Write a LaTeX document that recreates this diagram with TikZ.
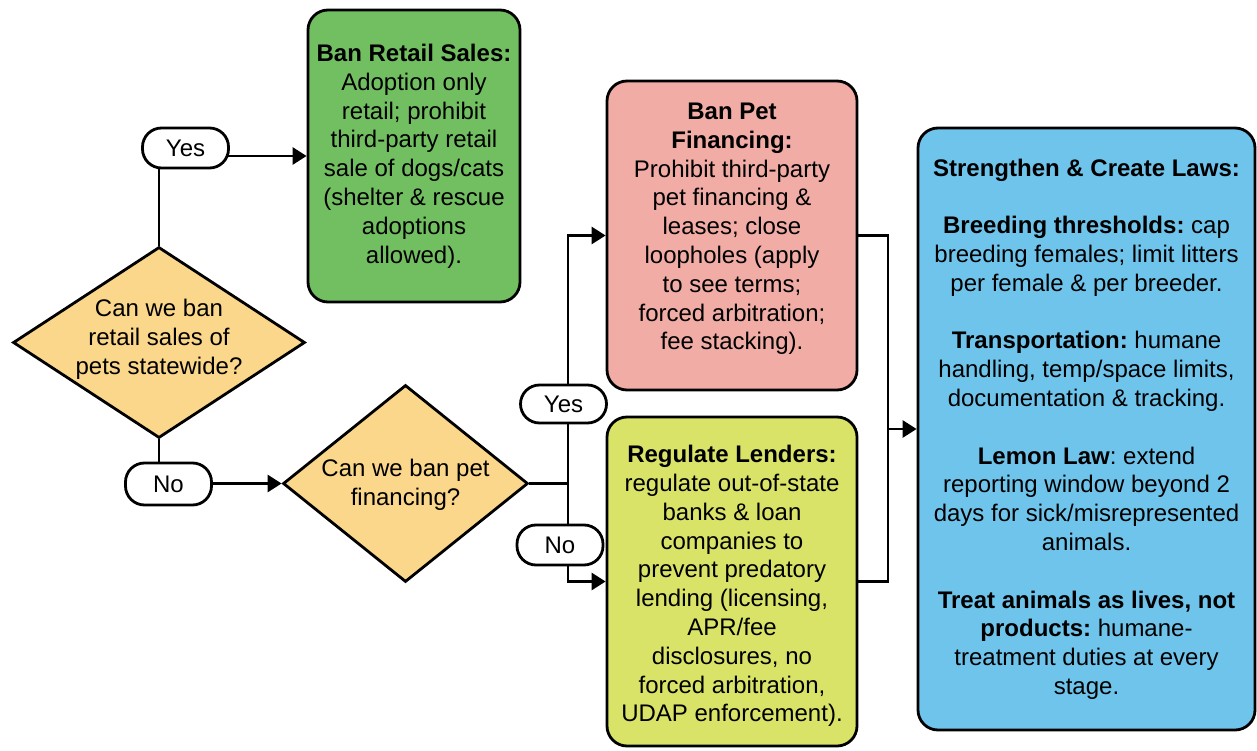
\documentclass[tikz,border=0pt]{standalone}
\usepackage{fontspec}
\setmainfont{Liberation Sans}
\usetikzlibrary{shapes.geometric,arrows.meta,backgrounds}
\definecolor{retailgreen}{RGB}{114,191,97}
\definecolor{financepink}{RGB}{241,172,165}
\definecolor{lendyellow}{RGB}{217,227,104}
\definecolor{lawblue}{RGB}{111,196,236}
\definecolor{decision}{RGB}{250,215,138}
\begin{document}
\frenchspacing
\begin{tikzpicture}[x=1pt,y=1pt,
  font=\fontsize{24}{28.8}\selectfont,
  card/.style={draw=black,line width=2.8pt,rounded corners=20pt,inner sep=0pt},
  txt/.style={align=center,inner sep=0pt},
  pill/.style={draw=black,line width=2.8pt,fill=white,rounded corners=19pt,
    minimum width=86pt,minimum height=40pt,inner sep=0pt},
  dia/.style={diamond,draw=black,line width=2.8pt,fill=decision,inner sep=0pt},
  link/.style={line width=2.8pt},
  arr/.style={link,-{Triangle[length=14pt,width=17pt]}}
]
\useasboundingbox (0,0) rectangle (1257,-751);

% decisions
\node[dia,minimum width=292pt,minimum height=191pt] (d1) at (159,-342.5) {};
\node[txt] (d1t) at ([yshift=3pt]d1.center) {Can we ban\\retail sales of\\pets statewide?};
\node[dia,minimum width=245pt,minimum height=197pt] (d2) at (405.5,-483.5) {};
\node[txt] (d2t) at ([yshift=-1.5pt]d2.center) {Can we ban pet\\financing?};

% outcome cards
\node[card,fill=retailgreen,minimum width=212pt,minimum height=292pt] (g) at (414,-156) {};
\node[txt] (gt) at (g.center) {\textbf{Ban Retail Sales:}\\Adoption only\\retail; prohibit\\third-party retail\\sale of dogs/cats\\(shelter \& rescue\\adoptions\\allowed).};

\node[card,fill=financepink,minimum width=250pt,minimum height=309pt] (pf) at (732,-235.5) {};
\node[txt] (pft) at ([yshift=6.5pt]pf.center) {\textbf{Ban Pet}\\\textbf{Financing:}\\Prohibit third-party\\pet financing \&\\leases; close\\loopholes (apply\\to see terms;\\forced arbitration;\\fee stacking).};

\node[card,fill=lendyellow,minimum width=250pt,minimum height=329pt] (yl) at (732,-581.5) {};
\node[txt] (ylt) at ([yshift=-4.5pt]yl.center) {\textbf{Regulate Lenders:}\\regulate out-of-state\\banks \& loan\\companies to\\prevent predatory\\lending (licensing,\\APR/fee\\disclosures, no\\forced arbitration,\\UDAP enforcement).};

\node[card,fill=lawblue,minimum width=337pt,minimum height=602pt] (bl) at (1086.5,-429) {};
\node[txt] (blt) at (bl.center) {\textbf{Strengthen \& Create Laws:}\\[28.8pt]
\textbf{Breeding thresholds:} cap\\breeding females; limit litters\\per female \& per breeder.\\[28.8pt]
\textbf{Transportation:} humane\\handling, temp/space limits,\\documentation \& tracking.\\[28.8pt]
\textbf{Lemon Law}: extend\\reporting window beyond 2\\days for sick/misrepresented\\animals.\\[28.8pt]
\textbf{Treat animals as lives, not}\\\textbf{products:} humane-\\treatment duties at every\\stage.};

% answer labels
\node[pill] (y1) at (185.5,-148) {Yes};
\node[pill,minimum height=42pt] (n1) at (168.5,-484) {No};
\node[pill,minimum height=38pt] (y2) at (563.5,-404) {Yes};
\node[pill] (n2) at (560,-545) {No};

% junction points
\coordinate (jl) at (568,-483.5);
\coordinate (jr) at (888,-429);

\begin{scope}[on background layer]
  \draw[link] (d1.north) -- (d1.north |- y1.center);
  \draw[arr] (y1.center |- g.west) -- (g.west);
  \draw[link] (d1.south) -- (d1.south |- n1.center);
  \draw[arr] (n1.center |- d2.west) -- (d2.west);
  \draw[link] (d2.east) -- (jl);
  \draw[arr] (jl) -- (jl |- pf.west) -- (pf.west);
  \draw[arr] (jl) -- (jl |- yl.west) -- (yl.west);
  \draw[link] (pf.east) -| (jr) |- (yl.east);
  \draw[arr] (jr) -- (bl.west);
\end{scope}
\end{tikzpicture}
\end{document}
